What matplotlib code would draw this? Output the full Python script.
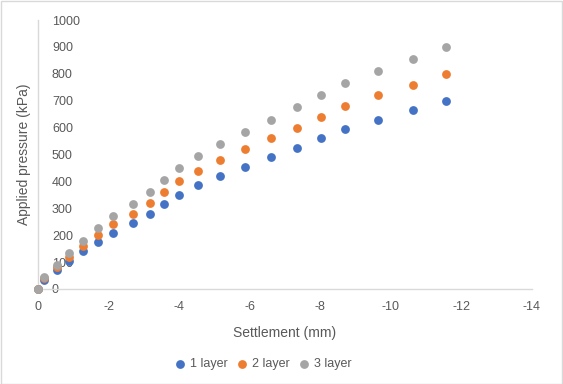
import matplotlib.pyplot as plt
from matplotlib.patches import Rectangle

plt.rcParams['font.family'] = ['Liberation Sans', 'DejaVu Sans']
plt.rcParams['axes.unicode_minus'] = False

# ---- data ----
settlement = [0, -0.17, -0.53, -0.89, -1.28, -1.69, -2.14, -2.68, -3.18, -3.57, -4.01,
              -4.55, -5.16, -5.88, -6.62, -7.34, -8.02, -8.70, -9.63, -10.63, -11.57]
layer1 = [0, 35, 70, 105, 140, 175, 210, 245, 280, 315, 350,
          385, 420, 455, 490, 525, 560, 595, 630, 665, 700]
layer2 = [0, 40, 80, 120, 160, 200, 240, 280, 320, 360, 400,
          440, 480, 520, 560, 600, 640, 680, 720, 760, 800]
layer3 = [0, 45, 90, 135, 180, 225, 270, 315, 360, 405, 450,
          495, 540, 585, 630, 675, 720, 765, 810, 855, 900]
series_names = ["1 layer", "2 layer", "3 layer"]
x_ticks = [0, -2, -4, -6, -8, -10, -12, -14]
y_ticks = list(range(0, 1001, 100))

colors = ["#4472C4", "#ED7D31", "#A5A5A5"]
text_col = "#595959"
line_col = "#D9D9D9"

fig = plt.figure(figsize=(5.63, 3.84), dpi=100)
ax = fig.add_axes([0.0675, 0.2474, 0.877, 0.7005])

for ys, name, c in zip([layer1, layer2, layer3], series_names, colors):
    ax.scatter(settlement, ys, s=40, color=c, label=name, zorder=3,
               linewidths=0, clip_on=False)

ax.set_xlim(0, -14)
ax.set_ylim(0, 1000)
ax.set_xticks(x_ticks)
ax.set_xticklabels([str(t) for t in x_ticks])
ax.set_yticks(y_ticks)

for side in ["top", "right"]:
    ax.spines[side].set_visible(False)
for side in ["left", "bottom"]:
    ax.spines[side].set_color(line_col)
    ax.spines[side].set_linewidth(1.0)

ax.tick_params(axis='x', length=0, pad=9, labelsize=9, labelcolor=text_col)
ax.tick_params(axis='y', length=0, pad=-10, labelsize=9, labelcolor=text_col)
for lab in ax.get_yticklabels():
    lab.set_horizontalalignment('left')

ax.set_xlabel("Settlement (mm)", fontsize=10, color=text_col, labelpad=9)
ax.set_ylabel("Applied pressure (kPa)", fontsize=10, color=text_col)
ax.yaxis.set_label_coords(-0.015, 0.5)

ax.legend(loc='upper center', bbox_to_anchor=(0.455, -0.215), ncol=3, frameon=False,
          fontsize=9, handletextpad=0.25, columnspacing=0.7, markerscale=1.0,
          labelcolor=text_col, handlelength=1.0)

fig.patches.append(Rectangle((0.001, 0.001), 0.997, 0.997, transform=fig.transFigure,
                             fill=False, edgecolor=line_col, linewidth=1.0))

fig.savefig("out.png", dpi=100)
